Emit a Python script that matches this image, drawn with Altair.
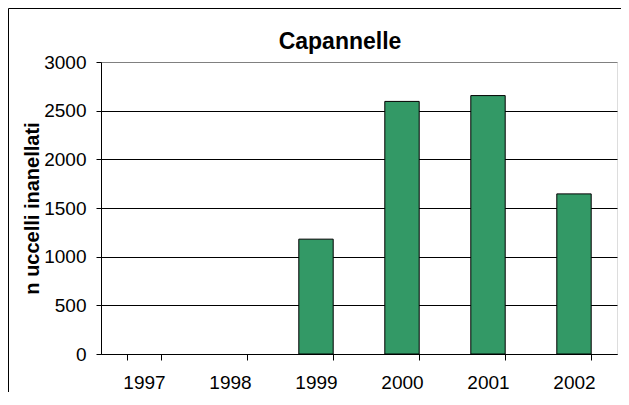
import altair as alt
import pandas as pd

years = ["1997", "1998", "1999", "2000", "2001", "2002"]
counts = [0, 0, 1180, 2595, 2655, 1645]
y_ticks = [0, 500, 1000, 1500, 2000, 2500, 3000]

df = pd.DataFrame({"anno": years, "n": counts})

W, H = 516, 292
FONT = "Liberation Sans"

frame = alt.Chart(pd.DataFrame({"k": [0]})).mark_rect(
    fillOpacity=0, stroke="black", strokeWidth=1
).encode(
    x=alt.value(-92.5), x2=alt.value(560), y=alt.value(-53.5), y2=alt.value(380)
)

bars = alt.Chart(df).transform_filter("datum.n > 0").mark_bar(
    color="#339966", stroke="black", strokeWidth=1
).encode(
    x=alt.X(
        "anno:N", sort=years,
        scale=alt.Scale(domain=years, paddingInner=0.6, paddingOuter=0.3),
        axis=alt.Axis(
            title=None, labelAngle=0, tickBand="extent", tickSize=6,
            labelPadding=13, labelFontSize=19, labelFont=FONT, labelColor="black",
            domainColor="black", tickColor="black", grid=False,
        ),
    ),
    y=alt.Y(
        "n:Q",
        scale=alt.Scale(domain=[0, 3000], nice=False),
        axis=alt.Axis(
            title="n uccelli inanellati", values=y_ticks, format="d", tickSize=5,
            labelPadding=10, labelFontSize=19, labelFont=FONT, labelColor="black",
            domainColor="black", tickColor="black",
            grid=True,
            gridColor={"condition": {"test": "datum.value === 3000", "value": "#808080"}, "value": "black"},
            gridWidth=1,
            titleFont=FONT, titleFontSize=20, titleFontWeight="bold", titleColor="black",
            titleX=-59, titleY=146,
        ),
    ),
)

chart = alt.layer(frame, bars).properties(
    width=W, height=H,
    title=alt.TitleParams(
        "Capannelle", font=FONT, fontSize=23, fontWeight="bold", color="black",
        anchor="middle", frame="group", baseline="alphabetic", offset=13.5, dx=-19, dy=77,
    ),
    autosize=alt.AutoSizeParams(type="none"),
    padding={"left": 93, "top": 54, "right": 4, "bottom": 38},
).configure_view(stroke="#808080", strokeWidth=1.5).configure(background="white")

chart.save("out.html", embed_options={"renderer": "svg", "actions": False})
